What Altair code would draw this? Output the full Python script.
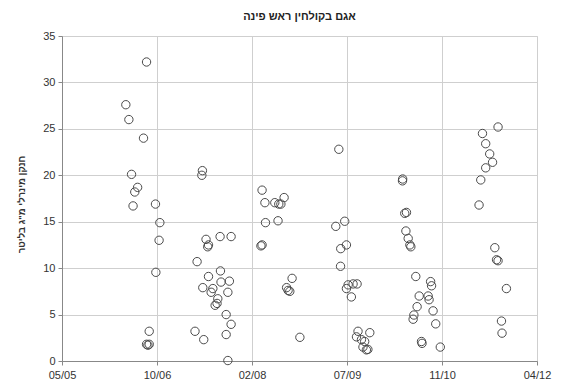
import altair as alt
import pandas as pd

dates = [
    # 2006
    "2006-04-29", "2006-05-15", "2006-05-29", "2006-06-30", "2006-06-15", "2006-06-06",
    "2006-07-31", "2006-08-16", "2006-10-02", "2006-10-25", "2006-10-21", "2006-10-04",
    "2006-08-30", "2006-08-16", "2006-08-30", "2006-08-23",
    # 2007
    "2007-06-06", "2007-06-03", "2007-06-25", "2007-07-08", "2007-07-04", "2007-09-07",
    "2007-11-04", "2007-05-09", "2007-09-09", "2007-07-08", "2007-10-26", "2007-09-12",
    "2007-06-08", "2007-07-31", "2007-10-18", "2007-07-22", "2007-08-26", "2007-08-22",
    "2007-08-12", "2007-10-09", "2007-11-04", "2007-04-28", "2007-06-13", "2007-10-09",
    "2007-10-18",
    # 2008
    "2008-04-15", "2008-04-30", "2008-06-21", "2008-07-12", "2008-08-09", "2008-07-23",
    "2008-05-03", "2008-07-08", "2008-04-15", "2008-04-09", "2008-09-20", "2008-08-22",
    "2008-08-30", "2008-09-08", "2008-10-31",
    # 2009
    "2009-05-24", "2009-06-24", "2009-05-08", "2009-07-03", "2009-06-03", "2009-06-02",
    "2009-07-12", "2009-08-07", "2009-08-28", "2009-07-03", "2009-07-29", "2009-09-02",
    "2009-11-03", "2009-08-25", "2009-09-20", "2009-10-07", "2009-09-28", "2009-10-16",
    "2009-10-24",
    # 2010
    "2010-04-24", "2010-04-25", "2010-05-06", "2010-05-15", "2010-05-12", "2010-05-24",
    "2010-06-07", "2010-06-02", "2010-07-03", "2010-09-19", "2010-09-24", "2010-07-21",
    "2010-09-06", "2010-09-11", "2010-07-10", "2010-10-02", "2010-06-23", "2010-06-19",
    "2010-10-16", "2010-08-02", "2010-08-05", "2010-11-09",
    # 2011
    "2011-09-09", "2011-06-19", "2011-07-06", "2011-07-27", "2011-08-11", "2011-07-06",
    "2011-06-10", "2011-06-01", "2011-08-23", "2011-09-01", "2011-09-09", "2011-10-23",
    "2011-09-27", "2011-09-30",
]

nitrogen = [
    # 2006
    27.6, 26.0, 20.1, 18.7, 18.2, 16.7,
    24.0, 32.2, 16.9, 14.9, 13.0, 9.55,
    3.2, 1.8, 1.8, 1.7,
    # 2007
    20.5, 20.0, 13.1, 12.5, 12.3, 13.4,
    13.4, 10.7, 9.7, 9.1, 8.6, 8.5,
    7.9, 7.8, 7.4, 7.4, 6.7, 6.2,
    6.0, 5.0, 3.95, 3.2, 2.3, 2.85,
    0.05,
    # 2008
    18.4, 17.05, 17.05, 16.9, 17.6, 16.9,
    14.9, 15.1, 12.5, 12.4, 8.9, 7.9,
    7.6, 7.5, 2.55,
    # 2009
    22.8, 15.05, 14.5, 12.5, 12.1, 10.2,
    8.2, 8.3, 8.3, 7.8, 6.9, 3.2,
    3.05, 2.6, 2.3, 2.1, 1.5, 1.2,
    1.25,
    # 2010
    19.4, 19.6, 15.9, 16.0, 14.0, 13.2,
    12.3, 12.5, 9.1, 8.55, 8.1, 7.0,
    7.0, 6.6, 5.85, 5.4, 4.95, 4.5,
    4.0, 2.1, 1.9, 1.5,
    # 2011
    25.2, 24.5, 23.4, 22.3, 21.4, 20.8,
    19.5, 16.8, 12.2, 10.9, 10.8, 7.8,
    4.3, 3.0,
]

tick_dates = [(2005, 5, 28), (2006, 10, 10), (2008, 2, 22),
              (2009, 7, 6), (2010, 11, 18), (2012, 4, 1)]
y_ticks = [0, 5, 10, 15, 20, 25, 30, 35]

title_text = "אגם בקולחין ראש פינה"
y_title = 'חנקן מינרלי מ"ג בליטר'

df = pd.DataFrame({"date": dates, "value": nitrogen})

def dt(t):
    return alt.DateTime(year=t[0], month=t[1], date=t[2], utc=True)

FONT = "Liberation Sans"

chart = alt.Chart(df).mark_point(
    shape="circle", filled=False, size=70, stroke="#4a4a4a", strokeWidth=1, opacity=1
).encode(
    x=alt.X("date:T",
            scale=alt.Scale(type="utc", domain=[dt(tick_dates[0]), dt(tick_dates[-1])], nice=False),
            axis=alt.Axis(values=[dt(t) for t in tick_dates],
                          labelExpr="utcFormat(datum.value, '%m/%y')",
                          title=None, labelFontSize=11, labelColor="#333", labelPadding=4,
                          tickSize=4, tickColor="#888", domainColor="#888",
                          gridColor="#cfcfcf", labelFont=FONT, labelFlush=False,
                          labelOverlap=False)),
    y=alt.Y("value:Q",
            scale=alt.Scale(domain=[0, 35], nice=False, zero=True),
            axis=alt.Axis(values=y_ticks, title=y_title, titleFontSize=9.5,
                          titleFontWeight="bold", titleColor="#333", titleFont=FONT,
                          titlePadding=16, titleY=168, labelFontSize=11, labelColor="#333",
                          labelFont=FONT, tickSize=4, tickColor="#888", domainColor="#888",
                          gridColor="#cfcfcf", labelPadding=3)),
).properties(
    width=475, height=325,
    title=alt.TitleParams(title_text, fontSize=11, fontWeight="bold", color="#222",
                          font=FONT, anchor="middle", offset=8),
    autosize=alt.AutoSizeParams(type="none"),
    padding={"left": 62, "top": 36, "right": 28, "bottom": 26},
).configure_view(stroke="#999", strokeWidth=1).configure(background="white")

chart.save("out.html", embed_options={"renderer": "svg", "actions": False})
